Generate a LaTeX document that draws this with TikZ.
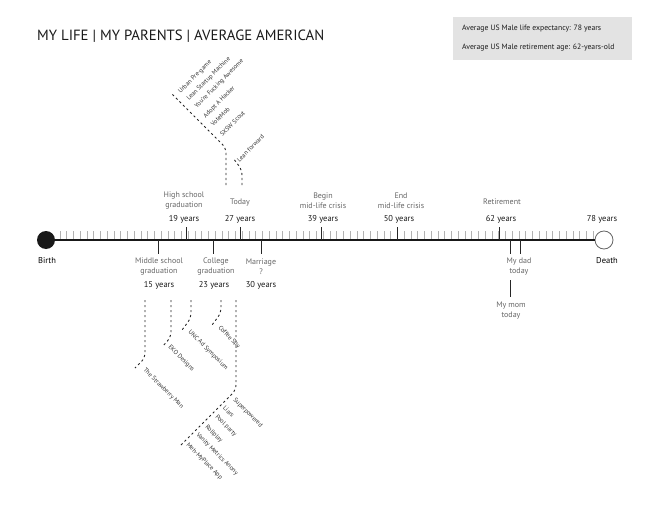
\documentclass[tikz,border=0pt]{standalone}
\usepackage{fontspec}
\setmainfont{PT Sans}
\begin{document}
\begin{tikzpicture}[x=1pt,y=-1pt,
  lbl/.style={text=black!60, font=\fontsize{8}{9.5}\selectfont, align=center, inner sep=0pt},
  yrs/.style={text=black!90, font=\fontsize{8.5}{10}\selectfont, inner sep=0pt},
  endlbl/.style={text=black, font=\fontsize{8.5}{10}\selectfont, inner sep=0pt},
  proj/.style={text=black!80, font=\fontsize{6.3}{7}\selectfont, inner sep=0pt, anchor=west},
  projup/.style={proj, rotate=45},
  projdn/.style={proj, rotate=-45},
  dashline/.style={draw=black!85, line width=0.9pt, dash pattern=on 2.2pt off 2.8pt, rounded corners=5pt},
  minor/.style={draw=black!30, line width=0.6pt},
  major/.style={draw=black!85, line width=1pt},
  boxtext/.style={text=black!90, font=\fontsize{7.7}{9}\selectfont, inner sep=0pt, anchor=west}
]
\useasboundingbox (0,0) rectangle (670,511);
% title
\node[anchor=west, inner sep=0pt, font=\fontsize{14.8}{18}\selectfont, text=black!90] (title) at (37,36) {MY LIFE | MY PARENTS | AVERAGE AMERICAN};
% info box
\node[fill=black!11, minimum width=179pt, minimum height=43pt, inner sep=0pt, anchor=north west] (infobox) at (453,17) {};
\node[boxtext] (info1) at (462,29) {Average US Male life expectancy: 78 years};
\node[boxtext] (info2) at (462,48) {Average US Male retirement age: 62-years-old};
% minor ticks
\foreach \i in {0,...,79} \draw[minor] ({60+6.75*\i},231) -- ({60+6.75*\i},239.5);
% birth and death
\node[circle, fill=black!90, minimum size=18pt, inner sep=0pt] (birth) at (46,240) {};
\node[circle, draw=black!60, fill=white, line width=0.8pt, minimum size=18pt, inner sep=0pt] (death) at (604,240) {};
\draw[draw=black!90, line width=1.3pt] (birth) -- (death);
% major ticks above
\foreach \x in {186,240,321,397,499} \draw[major] (\x,227) -- (\x,240);
% ticks below
\foreach \x in {158,213,261,510,520} \draw[major] (\x,240) -- (\x,254);
\coordinate (momtop) at (510,280);
\coordinate (mombot) at (510,297);
\draw[major] (momtop) -- (mombot);
% labels
\node[endlbl] (birthl) at (47,261) {Birth};
\node[endlbl] (deathl) at (607,261) {Death};
\node[lbl] (hs) at (184,200.5) {High school\\graduation};
\node[yrs] (y19) at (184,219) {19 years};
\node[lbl] (today) at (240,203) {Today};
\node[yrs] (y27) at (240,219) {27 years};
\node[lbl] (bm) at (323,200.5) {Begin\\mid-life crisis};
\node[yrs] (y39) at (323,219) {39 years};
\node[lbl] (em) at (401,200.5) {End\\mid-life crisis};
\node[yrs] (y50) at (399,219) {50 years};
\node[lbl] (ret) at (502,202) {Retirement};
\node[yrs] (y62) at (501,219) {62 years};
\node[yrs] (y78) at (602,219) {78 years};
\node[lbl] (ms) at (159,266.5) {Middle school\\graduation};
\node[yrs] (y15) at (159,285) {15 years};
\node[lbl] (cg) at (216,266.5) {College\\graduation};
\node[yrs] (y23) at (214,285) {23 years};
\node[lbl] (mar) at (261,266.5) {Marriage\\?};
\node[yrs] (y30) at (261,285) {30 years};
\node[lbl] (dad) at (519,266.5) {My dad\\today};
\node[lbl] (mom) at (511,310.5) {My mom\\today};
% upper dashed lines
\coordinate (ua0) at (226,185);
\coordinate (ua1) at (226,148);
\coordinate (ua2) at (171,93);
\draw[dashline] (ua0) -- (ua1) -- (ua2);
\coordinate (ub0) at (242,185);
\coordinate (ub1) at (242,170);
\coordinate (ub2) at (233,158);
\draw[dashline] (ub0) -- (ub1) -- (ub2);
\node[projup] (p1) at (179.5,92.5) {Urban Pre-game};
\node[projup] (p2) at (187.8,99.9) {Lean Startup Machine};
\node[projup] (p3) at (195.8,107.2) {You're Fucking Awesome};
\node[projup] (p4) at (204.5,117.2) {Adopt A Hacker};
\node[projup] (p5) at (211.8,125.2) {VoteMob};
\node[projup] (p6) at (220.8,135.2) {SXSW Scout};
\node[projup] (p7) at (238,160.9) {Lean forward};
% lower dashed lines
\coordinate (la0) at (145,300); \coordinate (la1) at (145,358); \coordinate (la2) at (135,368);
\draw[dashline] (la0) -- (la1) -- (la2);
\coordinate (lb0) at (171,300); \coordinate (lb1) at (171,337); \coordinate (lb2) at (162,347);
\draw[dashline] (lb0) -- (lb1) -- (lb2);
\coordinate (lc0) at (191,300); \coordinate (lc1) at (191,318); \coordinate (lc2) at (182,330);
\draw[dashline] (lc0) -- (lc1) -- (lc2);
\coordinate (ld0) at (221,300); \coordinate (ld1) at (221,313); \coordinate (ld2) at (212,325);
\draw[dashline] (ld0) -- (ld1) -- (ld2);
\coordinate (le0) at (236,300); \coordinate (le1) at (236,390); \coordinate (le2) at (180,446);
\draw[dashline] (le0) -- (le1) -- (le2);
\node[projdn] (q1) at (144,369) {The Strawberry Man};
\node[projdn] (q2) at (169,346) {EKO Designs};
\node[projdn] (q3) at (189,331) {UNC Ad Symposium};
\node[projdn] (q4) at (219,327) {Coffee Spy};
\node[projdn] (q5) at (234,399) {Superpowered};
\node[projdn] (q6) at (224,407) {Liars};
\node[projdn] (q7) at (216,416) {Pool party};
\node[projdn] (q8) at (206,426) {Rollplay};
\node[projdn] (q9) at (197,434) {Vanity Metrics Anony};
\node[projdn] (q10) at (187,444) {Meh-MyPlace App};
\end{tikzpicture}
\end{document}
